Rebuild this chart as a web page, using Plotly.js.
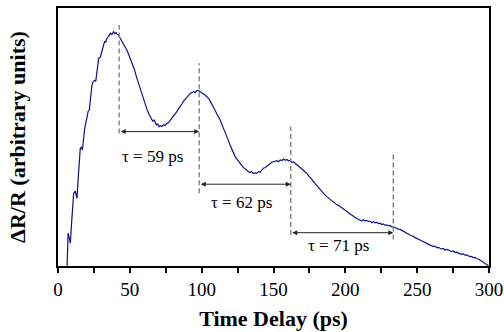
<!DOCTYPE html>
<html>
<head>
<meta charset="utf-8">
<script src="https://cdn.plot.ly/plotly-3.0.1.min.js"></script>
<style>html,body{margin:0;padding:0;background:#fff;}#chart{width:504px;height:332px;}</style>
</head>
<body>
<div id="chart"></div>
<script>
// Time delay (ps)
const timeDelay = [6.3,7.0,7.8,8.6,9.5,10.9,12.0,13.2,14.3,15.5,16.2,17.0,18.5,20.2,21.0,21.8,22.8,23.6,24.5,25.5,26.3,27.2,28.3,29.5,30.8,32.4,33.2,34.1,35.2,36.4,37.5,38.7,39.5,40.3,41.2,42.2,43.3,44.5,45.6,46.8,48.0,49.2,50.3,51.5,52.5,53.3,54.5,55.8,57.0,58.2,59.6,60.8,62.0,63.2,64.2,65.2,66.0,66.8,67.7,68.6,69.5,70.4,71.2,72.3,73.4,74.5,75.8,77.0,78.2,79.3,80.4,81.5,82.7,84.0,85.0,86.2,87.3,88.5,89.7,90.8,92.0,93.2,94.3,95.5,96.6,97.8,99.0,100.2,101.3,102.5,103.7,104.8,106.0,107.1,108.2,109.4,110.5,111.7,112.9,114.0,115.2,116.3,117.5,118.7,119.8,121.0,122.2,123.3,124.5,125.6,126.8,128.0,129.2,130.4,131.5,132.6,133.7,134.8,136.0,137.2,138.4,139.6,140.8,142.0,143.0,144.2,145.4,146.5,147.7,148.9,150.0,151.2,152.3,153.5,154.7,155.9,157.0,158.2,159.3,160.5,161.7,162.8,163.9,165.0,166.3,167.4,168.5,169.8,171.0,172.0,173.2,174.4,175.6,176.7,177.8,179.0,180.2,181.3,182.4,183.6,184.8,185.9,187.1,188.2,189.4,190.5,191.7,192.9,194.0,195.2,196.4,197.5,198.7,199.8,201.0,202.2,203.3,204.5,205.6,206.8,208.0,209.1,210.3,211.5,212.6,213.8,214.9,216.1,217.2,218.4,219.5,220.7,221.9,223.0,224.2,225.3,226.5,227.6,228.8,230.0,231.1,232.3,233.4,234.6,235.8,236.9,238.1,239.2,240.4,241.5,242.7,243.9,245.0,246.2,247.4,248.5,249.7,250.8,252.0,253.2,254.3,255.5,256.6,257.8,258.9,260.1,261.3,262.4,263.6,264.7,265.9,267.1,268.2,269.4,270.5,271.7,272.9,274.0,275.2,276.3,277.5,278.7,279.8,281.0,282.2,283.3,284.5,285.6,286.8,288.0,289.1,290.3,291.4,292.6,293.8,294.9,296.1,297.2,298.4,299.6];
// ΔR/R (arbitrary units)
const deltaR = [-0.01,0.127,0.11,0.088,0.17,0.282,0.29,0.262,0.36,0.456,0.46,0.45,0.53,0.59,0.60,0.605,0.66,0.70,0.715,0.72,0.716,0.76,0.805,0.81,0.84,0.87,0.868,0.883,0.89,0.902,0.897,0.908,0.90,0.905,0.898,0.895,0.883,0.872,0.862,0.85,0.836,0.82,0.805,0.785,0.772,0.76,0.735,0.712,0.69,0.668,0.643,0.622,0.606,0.59,0.579,0.574,0.56,0.567,0.553,0.547,0.55,0.54,0.544,0.541,0.548,0.545,0.553,0.556,0.565,0.572,0.579,0.59,0.598,0.61,0.617,0.628,0.638,0.645,0.656,0.66,0.669,0.672,0.676,0.672,0.68,0.68,0.676,0.672,0.669,0.662,0.656,0.65,0.638,0.628,0.617,0.603,0.59,0.58,0.566,0.55,0.535,0.518,0.501,0.485,0.468,0.452,0.437,0.424,0.414,0.405,0.398,0.389,0.381,0.375,0.368,0.365,0.362,0.366,0.358,0.361,0.359,0.366,0.364,0.372,0.379,0.382,0.388,0.393,0.398,0.402,0.404,0.407,0.408,0.404,0.411,0.409,0.415,0.41,0.413,0.408,0.41,0.401,0.404,0.398,0.392,0.39,0.385,0.376,0.37,0.364,0.359,0.35,0.344,0.336,0.327,0.319,0.312,0.303,0.295,0.288,0.28,0.275,0.269,0.264,0.257,0.253,0.249,0.244,0.238,0.235,0.23,0.224,0.22,0.215,0.21,0.207,0.2,0.197,0.191,0.188,0.184,0.18,0.178,0.174,0.179,0.175,0.177,0.172,0.174,0.168,0.172,0.167,0.169,0.164,0.166,0.161,0.163,0.158,0.159,0.156,0.157,0.152,0.152,0.148,0.147,0.143,0.142,0.138,0.136,0.13,0.128,0.124,0.12,0.117,0.115,0.11,0.108,0.104,0.101,0.097,0.094,0.09,0.088,0.083,0.081,0.079,0.075,0.077,0.071,0.072,0.069,0.066,0.068,0.062,0.064,0.06,0.059,0.056,0.058,0.053,0.054,0.05,0.049,0.045,0.047,0.042,0.043,0.039,0.036,0.037,0.032,0.033,0.028,0.027,0.023,0.02,0.015,0.012,0.007,0.001];

// Oscillation peak markers (ps) and dashed-line extents
const peakTimes = [42.6, 98.3, 162, 233.4];
const dashTop = [0.934, 0.786, 0.54, 0.437];
const dashBottom = [0.514, 0.282, 0.12, 0.103];
// Period arrows
const arrowLevels = [0.521, 0.317, 0.129];
const periodLabels = ['τ = 59 ps', 'τ = 62 ps', 'τ = 71 ps'];
const labelPos = [[66, 0.426], [128, 0.245], [195.2, 0.078]];

const xTickVals = [0, 50, 100, 150, 200, 250, 300];

const serif = '"Liberation Serif", "Times New Roman", serif';

const shapes = peakTimes.map((t, i) => ({
  type: 'line', xref: 'x', yref: 'y',
  x0: t, x1: t, y0: dashBottom[i], y1: dashTop[i],
  line: {color: '#8a8a8a', width: 1.5, dash: '5px,3px'}
}));

const annotations = [];
arrowLevels.forEach((lv, i) => {
  annotations.push({
    x: peakTimes[i + 1], y: lv, ax: peakTimes[i], ay: lv,
    xref: 'x', yref: 'y', axref: 'x', ayref: 'y',
    text: '', showarrow: true, arrowside: 'end+start',
    arrowhead: 2, startarrowhead: 2, arrowsize: 1, startarrowsize: 1,
    arrowwidth: 1, arrowcolor: '#222'
  });
  annotations.push({
    x: labelPos[i][0], y: labelPos[i][1], xref: 'x', yref: 'y',
    text: periodLabels[i], showarrow: false,
    font: {family: serif, size: 17, color: '#000'}
  });
});

const trace = {
  x: timeDelay, y: deltaR, type: 'scatter', mode: 'lines',
  line: {color: '#10108a', width: 1.2}, hoverinfo: 'skip'
};

const layout = {
  width: 504, height: 332,
  margin: {l: 58, r: 15, t: 8, b: 66},
  paper_bgcolor: '#fff', plot_bgcolor: '#fff',
  showlegend: false,
  xaxis: {
    range: [0, 300], tickvals: xTickVals, ticktext: xTickVals.map(String),
    ticks: 'outside', ticklen: 5, tickwidth: 2, tickcolor: '#000',
    minor: {dtick: 25, ticks: 'outside', ticklen: 5, tickwidth: 2, tickcolor: '#000', showgrid: false},
    showgrid: false, zeroline: false,
    showline: true, linecolor: '#000', linewidth: 2, mirror: true,
    tickfont: {family: serif, size: 19, color: '#000'},
    title: {text: '<b>Time Delay (ps)</b>', font: {family: serif, size: 22, color: '#000'}, standoff: 12}
  },
  yaxis: {
    range: [0, 1], showticklabels: false, ticks: '',
    showgrid: false, zeroline: false,
    showline: true, linecolor: '#000', linewidth: 2, mirror: true,
    title: {text: '<b>ΔR/R (arbitrary units)</b>', font: {family: serif, size: 22, color: '#000'}, standoff: 24}
  },
  shapes: shapes,
  annotations: annotations
};

Plotly.newPlot('chart', [trace], layout, {staticPlot: true, displayModeBar: false});
</script>
</body>
</html>
